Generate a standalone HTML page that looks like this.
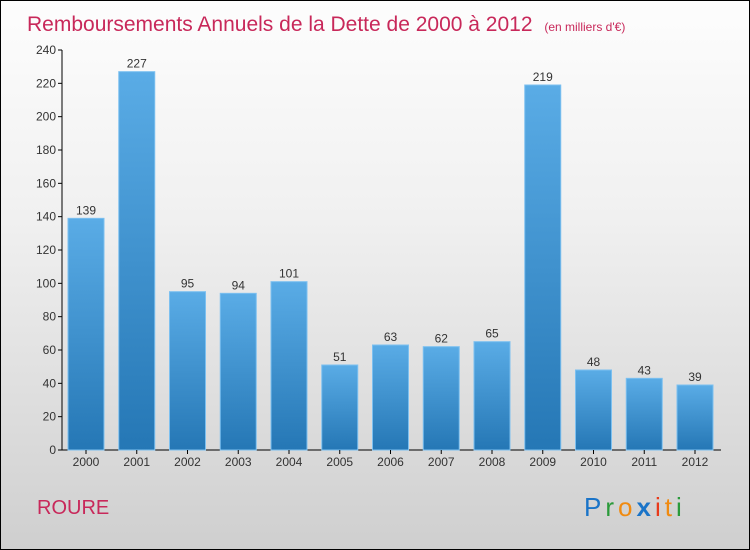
<!DOCTYPE html>
<html><head><meta charset="utf-8"><style>
body{margin:0;}
#c{position:relative;width:748px;height:548px;border:1px solid #000;background:linear-gradient(#fdfdfd,#f0f0f0 40%,#cfcfcf);font-family:"Liberation Sans",sans-serif;overflow:hidden}
</style></head><body>
<div id="c">
<svg id="s" width="748" height="548" xmlns="http://www.w3.org/2000/svg">
<defs><linearGradient id="g" x1="0" y1="0" x2="0" y2="1"><stop offset="0" stop-color="#5aace6"/><stop offset="1" stop-color="#2577b5"/></linearGradient></defs>
<text x="26" y="30" font-size="21" fill="#c8285a">Remboursements Annuels de la Dette de 2000 à 2012 <tspan font-size="12" dx="6">(en milliers d'€)</tspan></text>
<text x="36" y="513" font-size="20" fill="#c8285a">ROURE</text>
<text x="583" y="515" font-size="26" letter-spacing="4" font-family="'Liberation Sans',sans-serif"><tspan fill="#1a74c8">P</tspan><tspan fill="#2a9a3a">r</tspan><tspan fill="#f08a10">o</tspan><tspan fill="#1a74c8" font-weight="bold">x</tspan><tspan fill="#e83a1a">i</tspan><tspan fill="#f08a10">t</tspan><tspan fill="#2a9a3a">i</tspan></text>
<g id="plot"></g>
</svg>
</div>
<script>
const categories=["2000","2001","2002","2003","2004","2005","2006","2007","2008","2009","2010","2011","2012"];
const values=[139,227,95,94,101,51,63,62,65,219,48,43,39];
const ticks=[0,20,40,60,80,100,120,140,160,180,200,220,240];
const NS="http://www.w3.org/2000/svg";
const p=document.getElementById('plot');
const y=v=>449-v*(400/240);
const x=i=>85+i*50.75;
function mk(t,a){const e=document.createElementNS(NS,t);for(const k in a)e.setAttribute(k,a[k]);p.appendChild(e);return e;}
let ax=mk('line',{x1:61,y1:y(240),x2:61,y2:y(0),stroke:'#000'});


let bx=mk('line',{x1:61,y1:y(0),x2:720,y2:y(0),stroke:'#000'});


ticks.forEach(t=>{
 const l=mk('line',{x1:57,y1:y(t),x2:61,y2:y(t),stroke:'#000'});
 
 
 const tx=mk('text',{x:55,y:y(t)+4,'text-anchor':'end','font-size':12,fill:'#333'});tx.textContent=t;
 
 
});
categories.forEach((c,i)=>{
 const v=values[i];
 const r=mk('rect',{x:x(i)-18,y:y(v),width:36,height:y(0)-y(v),fill:'url(#g)',stroke:'#7cc0f0','stroke-width':1});
 
 
 const lt=mk('text',{x:x(i),y:y(v)-4,'text-anchor':'middle','font-size':12,fill:'#333'});lt.textContent=v;
 
 
 const tk=mk('line',{x1:x(i),y1:y(0),x2:x(i),y2:y(0)+4,stroke:'#000'});
 
 
 const ct=mk('text',{x:x(i),y:465,'text-anchor':'middle','font-size':12,fill:'#333'});ct.textContent=c;
 
 
});
</script>
</body></html>
